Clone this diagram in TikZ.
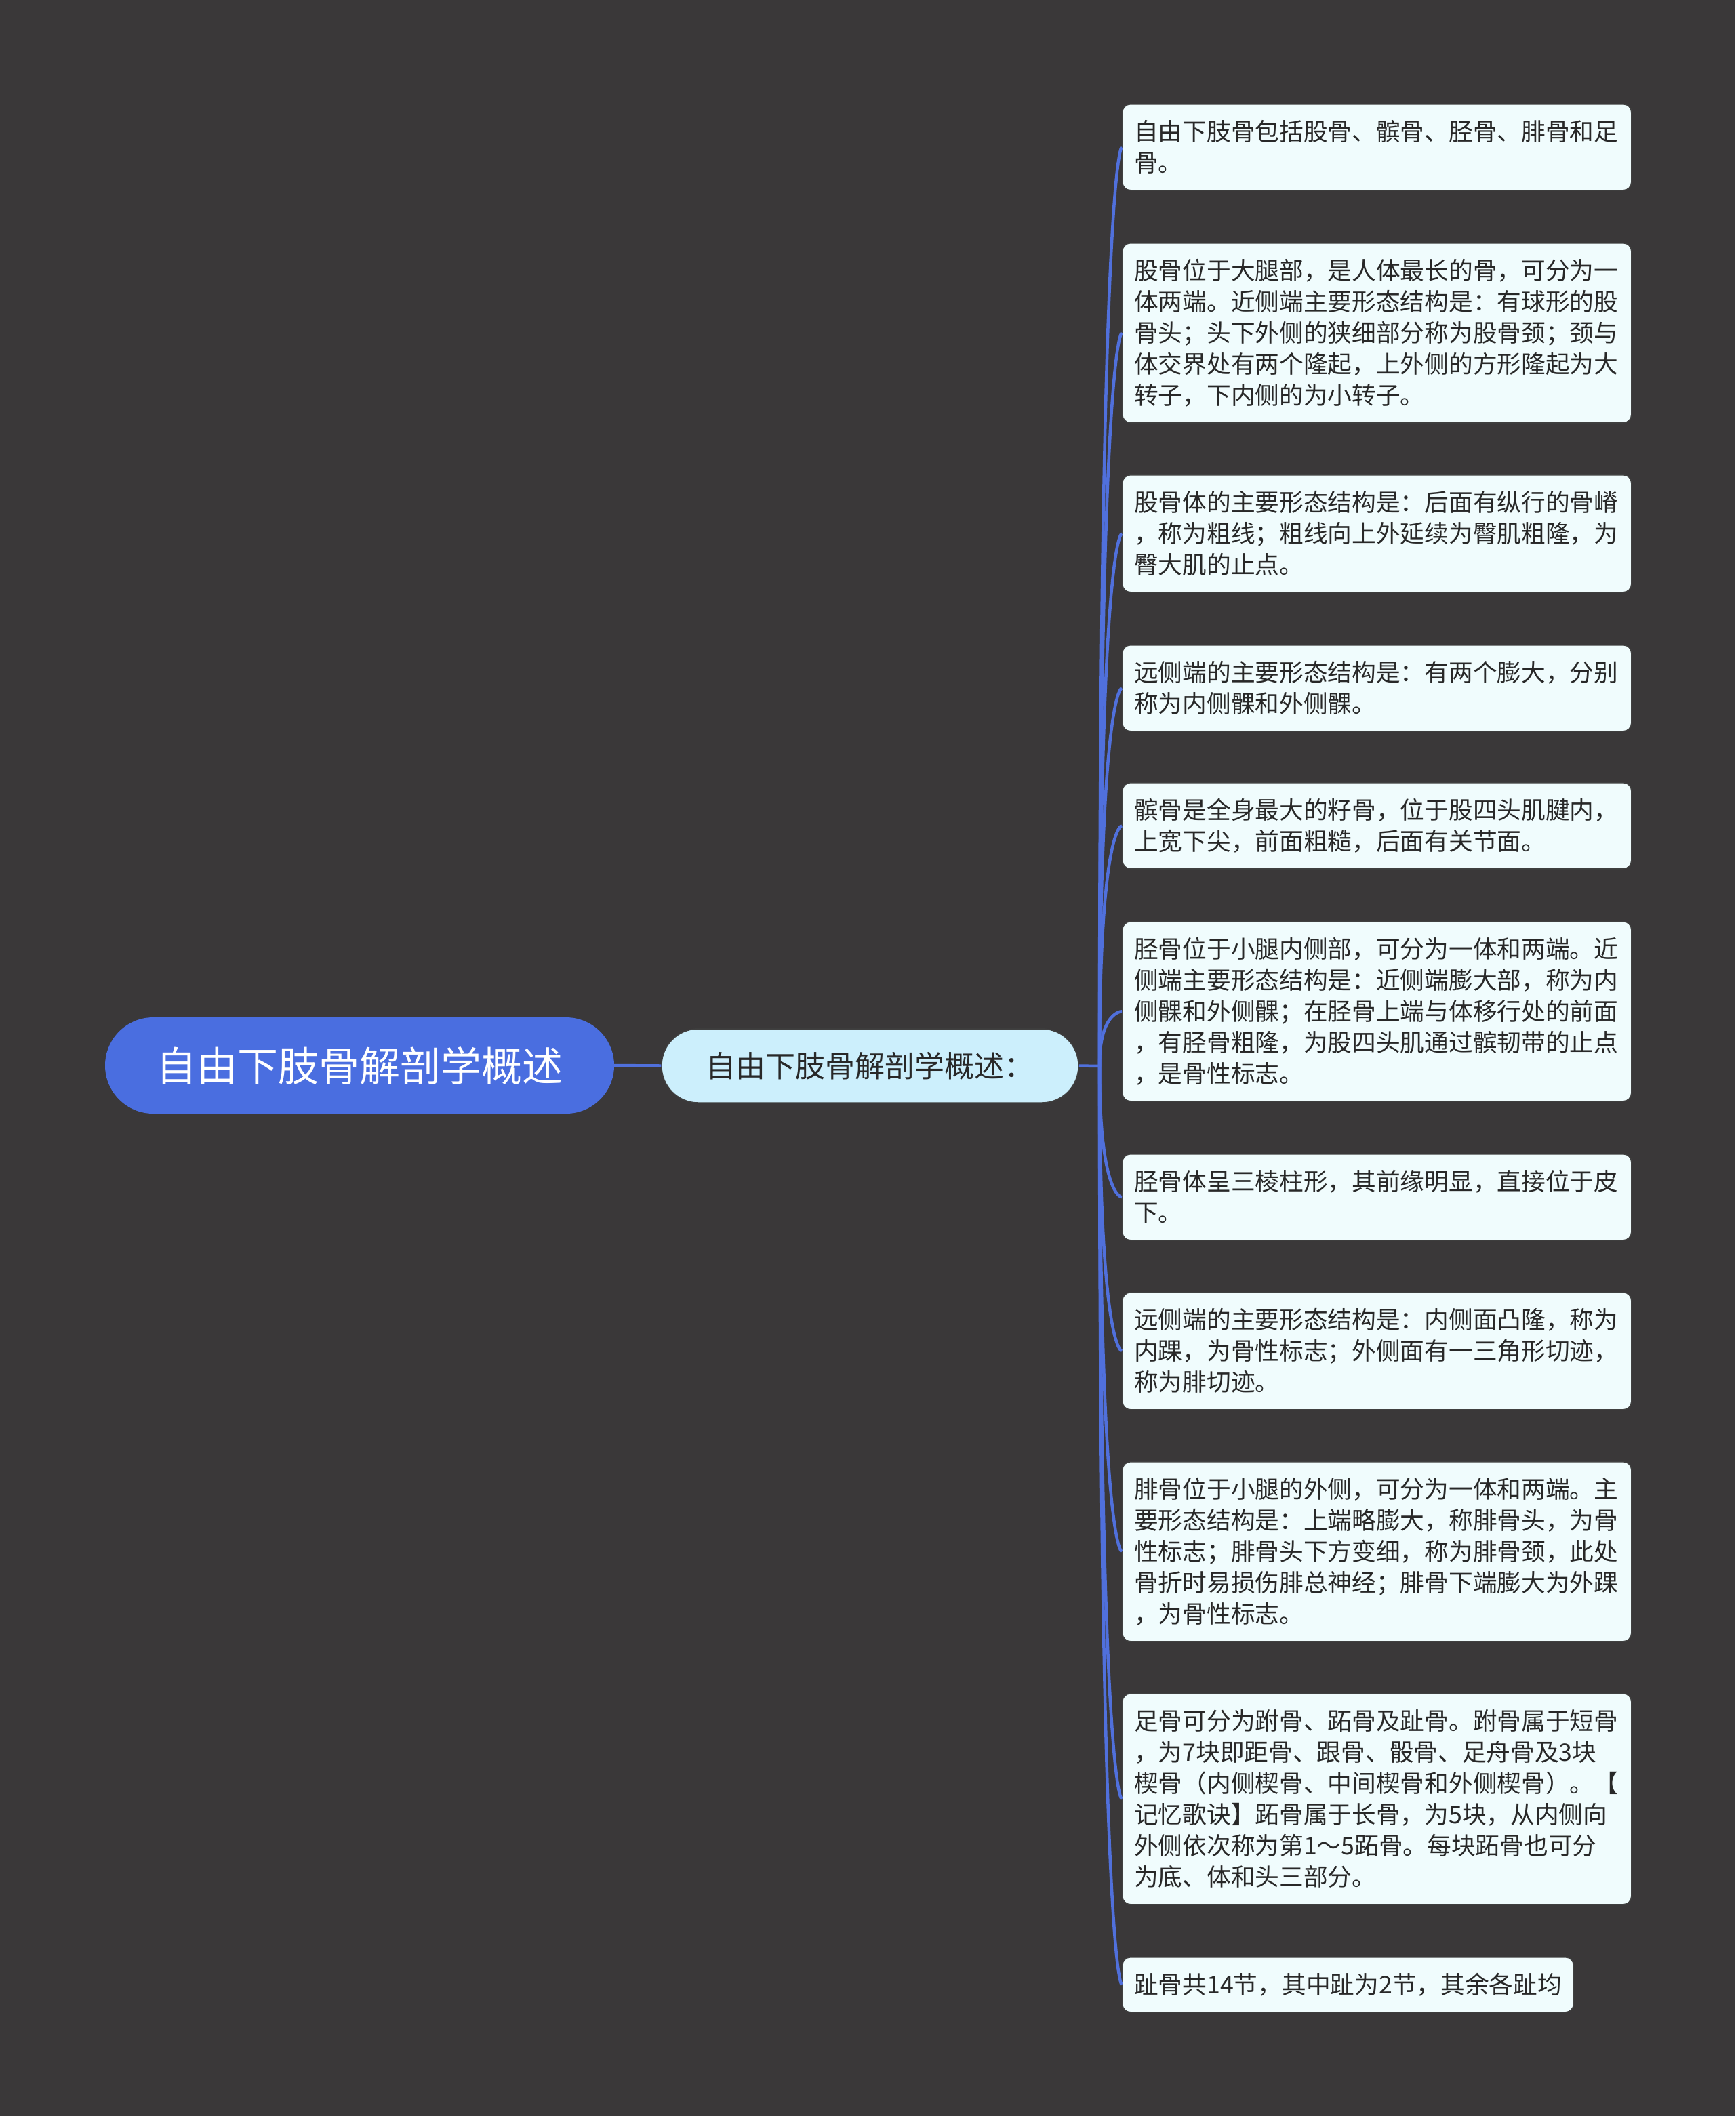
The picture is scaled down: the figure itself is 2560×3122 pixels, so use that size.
\documentclass[tikz,border=0pt]{standalone}
\usepackage{fontspec}
\newfontfamily\cjk{Noto Sans CJK SC}
\definecolor{bg}{RGB}{58,56,57}
\definecolor{rootblue}{RGB}{74,110,224}
\definecolor{linkblue}{RGB}{80,112,220}
\definecolor{subfill}{RGB}{204,239,252}
\definecolor{leaffill}{RGB}{240,252,253}
\definecolor{txt}{RGB}{40,40,40}
\begin{document}
\begin{tikzpicture}[x=1pt,y=-1pt,
  rootnode/.style={fill=rootblue, rounded corners=71pt, minimum width=751pt, minimum height=142pt, inner sep=0pt, font=\cjk\fontsize{60}{72}\selectfont, text=white},
  subnode/.style={fill=subfill, draw=black!75, line width=1.5pt, rounded corners=54pt, minimum width=615pt, minimum height=109pt, inner sep=0pt, font=\cjk\fontsize{44}{54}\selectfont, text=txt},
  leaf/.style={fill=leaffill, draw=black!75, line width=1.5pt, rounded corners=12pt, anchor=north west, inner xsep=17.5pt, inner ysep=0pt, align=left, font=\cjk\fontsize{35.7}{46}\selectfont, text=txt},
  wide/.style={text width=716pt},
  link/.style={draw=linkblue, line width=4.5pt},
]
\fill[bg] (0,0) rectangle (2560,3122);
\useasboundingbox (0,0) rectangle (2560,3122);

\node[rootnode] (r) at (530.5,1572) {自由下肢骨解剖学概述};
\node[subnode] (s) at (1283.5,1572.5) {自由下肢骨解剖学概述：};
\coordinate (hub) at (1622,1573);

\node[leaf,wide,minimum height=127pt] (l1) at (1655,153) {自由下肢骨包括股骨、髌骨、胫骨、腓骨和足\\骨。};
\node[leaf,wide,minimum height=265pt] (l2) at (1655,358) {股骨位于大腿部，是人体最长的骨，可分为一\\体两端。近侧端主要形态结构是：有球形的股\\骨头；头下外侧的狭细部分称为股骨颈；颈与\\体交界处有两个隆起，上外侧的方形隆起为大\\转子，下内侧的为小转子。};
\node[leaf,wide,minimum height=173pt] (l3) at (1655,700) {股骨体的主要形态结构是：后面有纵行的骨嵴\\，称为粗线；粗线向上外延续为臀肌粗隆，为\\臀大肌的止点。};
\node[leaf,wide,minimum height=127pt] (l4) at (1655,951) {远侧端的主要形态结构是：有两个膨大，分别\\称为内侧髁和外侧髁。};
\node[leaf,wide,minimum height=127pt] (l5) at (1655,1154) {髌骨是全身最大的籽骨，位于股四头肌腱内，\\上宽下尖，前面粗糙，后面有关节面。};
\node[leaf,wide,minimum height=265pt] (l6) at (1655,1359) {胫骨位于小腿内侧部，可分为一体和两端。近\\侧端主要形态结构是：近侧端膨大部，称为内\\侧髁和外侧髁；在胫骨上端与体移行处的前面\\，有胫骨粗隆，为股四头肌通过髌韧带的止点\\，是骨性标志。};
\node[leaf,wide,minimum height=127pt] (l7) at (1655,1702) {胫骨体呈三棱柱形，其前缘明显，直接位于皮\\下。};
\node[leaf,wide,minimum height=173pt] (l8) at (1655,1906) {远侧端的主要形态结构是：内侧面凸隆，称为\\内踝，为骨性标志；外侧面有一三角形切迹，\\称为腓切迹。};
\node[leaf,wide,minimum height=265pt] (l9) at (1655,2156) {腓骨位于小腿的外侧，可分为一体和两端。主\\要形态结构是：上端略膨大，称腓骨头，为骨\\性标志；腓骨头下方变细，称为腓骨颈，此处\\骨折时易损伤腓总神经；腓骨下端膨大为外踝\\，为骨性标志。};
\node[leaf,wide,minimum height=311pt] (l10) at (1655,2498) {足骨可分为跗骨、跖骨及趾骨。跗骨属于短骨\\，为7块即距骨、跟骨、骰骨、足舟骨及3块\\楔骨（内侧楔骨、中间楔骨和外侧楔骨）。【\\记忆歌诀】跖骨属于长骨，为5块，从内侧向\\外侧依次称为第1～5跖骨。每块跖骨也可分\\为底、体和头三部分。};
\node[leaf,minimum height=81pt] (l11) at (1655,2887) {趾骨共14节，其中趾为2节，其余各趾均};

\draw[link] (r.east) -- (s.west);
\draw[link] (s.east) -- (hub);
\foreach \i in {1,...,11}
  \draw[link] (hub) .. controls (hub |- l\i.west) and (l\i.west) .. (l\i.west);
\end{tikzpicture}
\end{document}
